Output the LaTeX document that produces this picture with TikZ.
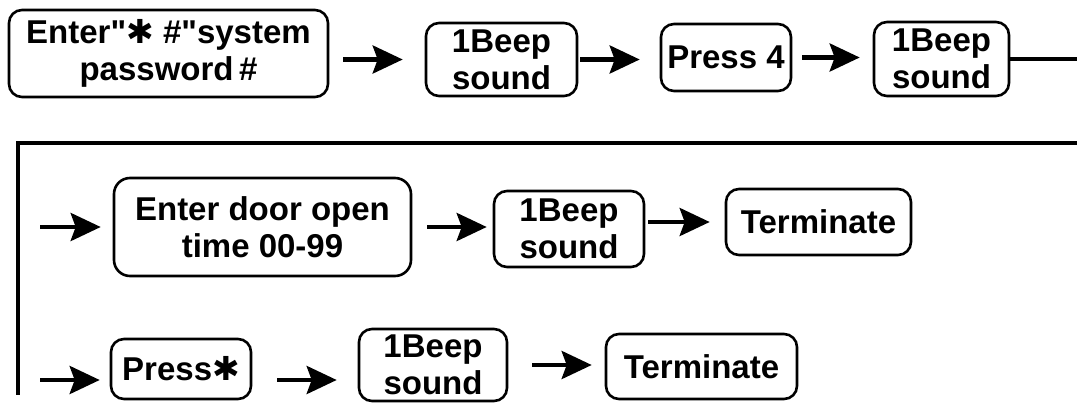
\documentclass[tikz,border=0pt]{standalone}
\usepackage{fontspec}
\setmainfont{Liberation Sans}[Ligatures=TeXOff]
\newfontfamily\symfont{DejaVu Sans}
\usetikzlibrary{arrows.meta}
\tikzset{
  kasten/.style={draw=black,line width=2.6pt,rounded corners=13pt,
    align=center,inner sep=0pt,font=\bfseries\fontsize{33}{37}\selectfont},
  pfeil/.style={line width=4.2pt,-{Stealth[length=30pt,width=28pt,inset=5pt]}},
  linie/.style={line width=4.5pt}
}
\newcommand{\stern}{{\symfont\mdseries ✱}}

\begin{document}
\begin{tikzpicture}[x=1pt,y=-1pt]
\useasboundingbox (0,0) rectangle (1077,402);
%Erste Zeile
	\node[kasten,minimum width=319pt,minimum height=87pt] (sysPw) at (168.5,53.5)
		{Enter"\stern\ \#"system\\password\,\#};
	\node[kasten,minimum width=151pt,minimum height=73pt] (beepA) at (501.5,59.5)
		{1Beep\\sound};
	\node[kasten,minimum width=130pt,minimum height=67pt] (pressFour) at (726,57.5)
		{Press 4};
	\node[kasten,minimum width=135pt,minimum height=74pt] (beepB) at (941.5,59)
		{1Beep\\sound};
	\draw[pfeil,shorten <=14pt,shorten >=22pt] (beepA.west -| sysPw.east) -- (beepA.west);
	\draw[pfeil,shorten <=2pt,shorten >=20pt] (beepA.east) -- (beepA.east -| pressFour.west);
	\draw[pfeil,shorten <=10pt,shorten >=13pt] (pressFour.east) -- (pressFour.east -| beepB.west);
%Rueckfuehrung
	\coordinate (rechts) at (1077,143);
	\coordinate (links) at (18,143);
	\coordinate (unten) at (18,395);
	\coordinate (r3) at (18,380);
	\draw[linie] (beepB.east) -- (beepB.east -| rechts);
	\draw[linie] (rechts) -- (links) -- (unten);
%Zweite Zeile
	\node[kasten,minimum width=297pt,minimum height=98pt,rounded corners=16pt] (doorTime) at (262.5,227)
		{Enter door open\\time 00-99};
	\node[kasten,minimum width=150pt,minimum height=76pt] (beepC) at (569,229)
		{1Beep\\sound};
	\node[kasten,minimum width=185pt,minimum height=66pt] (termA) at (818.5,222)
		{Terminate};
	\draw[pfeil,shorten <=22pt,shorten >=12pt] (links |- doorTime) -- (doorTime.west);
	\draw[pfeil,shorten <=15pt,shorten >=6pt] (doorTime.east) -- (doorTime.east -| beepC.west);
	\draw[pfeil,shorten <=3pt,shorten >=15pt] (termA.west -| beepC.east) -- (termA.west);
%Dritte Zeile
	\node[kasten,minimum width=140pt,minimum height=60pt] (pressStar) at (181,369)
		{Press\stern};
	\node[kasten,minimum width=148pt,minimum height=72pt] (beepD) at (433,365)
		{1Beep\\sound};
	\node[kasten,minimum width=191pt,minimum height=65pt] (termB) at (701.5,366.5)
		{Terminate};
	\draw[pfeil,shorten <=22pt,shorten >=10pt] (r3) -- (r3 -| pressStar.west);
	\draw[pfeil,shorten <=25pt,shorten >=21pt] (r3 -| pressStar.east) -- (r3 -| beepD.west);
	\draw[pfeil,shorten <=24pt,shorten >=13pt] (beepD.east) -- (beepD.east -| termB.west);
\end{tikzpicture}
\end{document}
